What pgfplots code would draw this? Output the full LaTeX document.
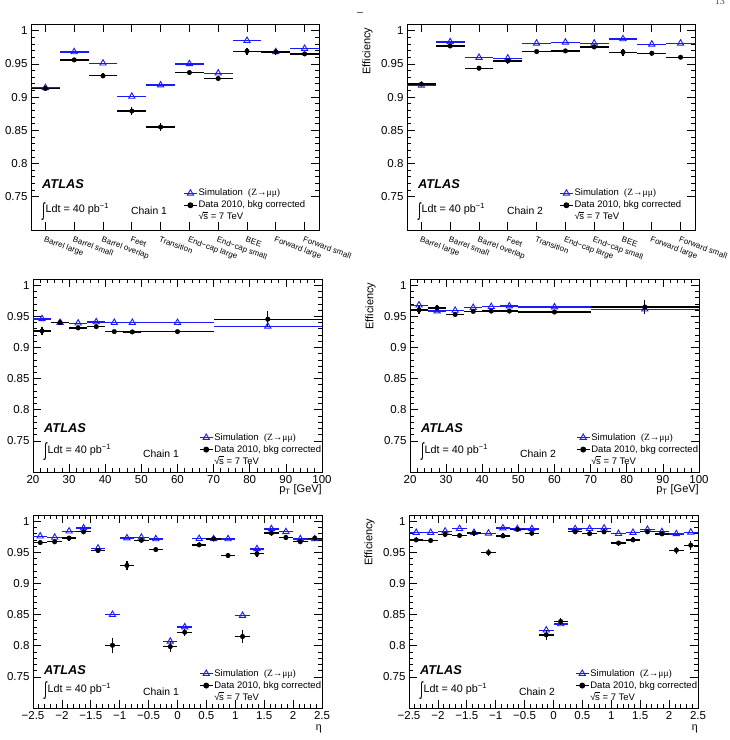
\documentclass[border=0pt]{standalone}
\usepackage{graphicx}
\usepackage{pgfplots}
\pgfplotsset{compat=1.18}
\usepackage{fontspec}
\setmainfont{Liberation Sans}
\newfontfamily\symfont{Liberation Serif}

\definecolor{simblue}{RGB}{25,25,250}

\newcommand\sqrts{√\kern-0.4pt$\overline{\mbox{s\vphantom{t}}}$}
\newcommand\lumi{\raisebox{-0.32em}{\scalebox{1}[1.75]{∫}}\kern0.5pt Ldt = 40 pb\textsuperscript{−1}}

\pgfplotsset{
  panel/.style={
    scale only axis, anchor=north west,
    ymin=0.70, ymax=1.01,
    ytick={0.75,0.8,0.85,0.9,0.95,1},
    minor y tick num=4,
    tick align=inside,
    major tick length=8pt, minor tick length=4pt,
    axis line style={line width=0.9pt},
    every tick/.append style={line width=0.7pt, black},
    /pgf/number format/assume math mode=true,
    tick label style={font=\fontsize{11.5}{13}\selectfont},
    ylabel={Efficiency},
    ylabel style={font=\fontsize{11}{13}\selectfont, at={(rel axis cs:-0.107,1)}, anchor=south east},
    clip=false,
    legend cell align=left,
    legend image code/.code={\draw[mark repeat=2, mark phase=2, ##1] plot coordinates {(0pt,0pt) (6.5pt,0pt) (13pt,0pt)};},
    legend style={draw=none, fill=none, inner sep=0pt, font=\fontsize{9.5}{11}\selectfont, row sep=1pt,
      nodes={inner sep=1pt, text height=7pt, text depth=2pt}},
  },
  catpanel/.style={panel, width=288pt, height=206pt,
    xmin=-0.5, xmax=9.5, xtick={0,...,9},
    xticklabels={Barrel large, Barrel small, Barrel overlap, Feet, Transition,
      End−cap large, End−cap small, BEE, Forward large, Forward small},
    xticklabel style={font=\fontsize{8}{9}\selectfont, yshift=-6pt, rotate=-20, anchor=north west, inner sep=0pt},
    legend style={at={(rel axis cs:0.528,0.206)}, anchor=north west},
  },
  ptpanel/.style={panel, width=289pt, height=193pt,
    xmin=20, xmax=100, xtick={20,30,...,100}, minor x tick num=4,
    xlabel={p\textsubscript{T} [GeV]},
    xlabel style={font=\fontsize{11}{13}\selectfont, at={(rel axis cs:1,-0.064)}, anchor=north east, inner sep=0pt},
    legend style={at={(rel axis cs:0.574,0.208)}, anchor=north west},
  },
  etapanel/.style={panel, width=289pt, height=193pt,
    xmin=-2.5, xmax=2.5, xtick={-2.5,-2,-1.5,-1,-0.5,0,0.5,1,1.5,2,2.5},
    xticklabels={−2.5,−2,−1.5,−1,−0.5,0,0.5,1,1.5,2,2.5},
    minor x tick num=4,
    xlabel={{\symfont η}},
    xlabel style={font=\fontsize{12}{13}\selectfont, at={(rel axis cs:1,-0.085)}, anchor=north east, inner sep=0pt},
    legend style={at={(rel axis cs:0.574,0.208)}, anchor=north west},
  },
  sim/.style={forget plot, only marks, mark=triangle, mark size=3.6pt, color=simblue,
    mark options={line width=0.9pt, fill=none},
    error bars/.cd, x dir=both, x explicit, error mark=none,
    error bar style={line width=1.3pt, simblue}},
  dat/.style={forget plot, only marks, mark=*, mark size=2.3pt, color=black,
    error bars/.cd, x dir=both, x explicit, y dir=both, y explicit, error mark=none,
    error bar style={line width=1.3pt, black}},
}

% legend entries shared by every panel
\newcommand\efflegend{%
  \addlegendimage{simblue, mark=triangle, mark size=3.6pt, line width=1.3pt, mark options={line width=0.9pt}}
  \addlegendentry{Simulation\ \ {\symfont (Z→μμ)}}
  \addlegendimage{black, mark=*, mark size=2.3pt, line width=1.3pt}
  \addlegendentry{Data 2010, bkg corrected}
  \addlegendimage{empty legend}
  \addlegendentry{\sqrts\ = 7 TeV}
}

% ATLAS label, luminosity and chain name
\newcommand\labels[5]{%
  \node[anchor=west, inner sep=0pt, font=\fontsize{12.8}{14}\selectfont\bfseries\itshape] at (rel axis cs:0.038,#1) {ATLAS};
  \node[anchor=west, inner sep=0pt, font=\fontsize{10.8}{12}\selectfont] at (rel axis cs:0.038,#2) {\lumi};
  \node[anchor=west, inner sep=0pt, font=\fontsize{10.4}{12}\selectfont] at (rel axis cs:#3,#4) {Chain #5};
}

\begin{document}
\begin{tikzpicture}
\path[use as bounding box] (0pt,0pt) rectangle (730pt,-740pt);
\clip (0pt,0pt) rectangle (730pt,-740pt);

\draw[black!60, line width=0.8pt] (357pt,-12.7pt) -- (363pt,-12.7pt);
\node[anchor=base east, inner sep=0pt, text=black!70, font=\symfont\fontsize{10}{12}\selectfont] at (725pt,-4pt) {13};

% ---------------- muon spectrometer regions, chain 1
\begin{axis}[catpanel, at={(31pt,-24pt)}]
\efflegend
\addplot[sim] table[x index=0, y index=1, x error index=2] {
0 0.914 0.5
1 0.968 0.5
2 0.951 0.5
3 0.901 0.5
4 0.918 0.5
5 0.950 0.5
6 0.936 0.5
7 0.985 0.5
8 0.968 0.5
9 0.973 0.5
};
\addplot[dat] table[x index=0, y index=1, x error index=2, y error index=3] {
0 0.913 0.5 0.003
1 0.956 0.5 0.003
2 0.932 0.5 0.004
3 0.879 0.5 0.006
4 0.855 0.5 0.006
5 0.937 0.5 0.003
6 0.928 0.5 0.003
7 0.969 0.5 0.005
8 0.968 0.5 0.004
9 0.965 0.5 0.003
};
\labels{0.223}{0.092}{0.347}{0.092}{1}
\end{axis}

% ---------------- muon spectrometer regions, chain 2
\begin{axis}[catpanel, at={(407pt,-24pt)}]
\efflegend
\addplot[sim] table[x index=0, y index=1, x error index=2] {
0 0.9175 0.5
1 0.983 0.5
2 0.9595 0.5
3 0.9585 0.5
4 0.981 0.5
5 0.9825 0.5
6 0.981 0.5
7 0.9875 0.5
8 0.9795 0.5
9 0.981 0.5
};
\addplot[dat] table[x index=0, y index=1, x error index=2, y error index=3] {
0 0.9195 0.5 0.003
1 0.977 0.5 0.003
2 0.9435 0.5 0.003
3 0.9545 0.5 0.004
4 0.9685 0.5 0.003
5 0.9695 0.5 0.003
6 0.9755 0.5 0.003
7 0.9675 0.5 0.005
8 0.966 0.5 0.004
9 0.960 0.5 0.003
};
\labels{0.223}{0.092}{0.347}{0.092}{2}
\end{axis}

% ---------------- transverse momentum, chain 1
\begin{axis}[ptpanel, at={(33pt,-279pt)}]
\efflegend
\addplot[sim] table[x index=0, y index=1, x error index=2] {
22.5 0.946 2.5
27.5 0.940 2.5
32.5 0.939 2.5
37.5 0.941 2.5
42.5 0.940 2.5
47.5 0.940 2.5
60   0.940 10
85   0.934 15
};
\addplot[dat] table[x index=0, y index=1, x error index=2, y error index=3] {
22.5 0.9265 2.5 0.007
27.5 0.940  2.5 0.004
32.5 0.9315 2.5 0.003
37.5 0.9335 2.5 0.003
42.5 0.9255 2.5 0.003
47.5 0.925  2.5 0.003
60   0.9255 10  0.003
85   0.9455 15  0.013
};
\labels{0.225}{0.104}{0.38}{0.093}{1}
\end{axis}

% ---------------- transverse momentum, chain 2
\begin{axis}[ptpanel, at={(410pt,-279pt)}]
\efflegend
\addplot[sim] table[x index=0, y index=1, x error index=2] {
22.5 0.968  2.5
27.5 0.9585 2.5
32.5 0.9595 2.5
37.5 0.964  2.5
42.5 0.9655 2.5
47.5 0.9665 2.5
60   0.965  10
85   0.9615 15
};
\addplot[dat] table[x index=0, y index=1, x error index=2, y error index=3] {
22.5 0.960  2.5 0.006
27.5 0.9635 2.5 0.004
32.5 0.953  2.5 0.003
37.5 0.958  2.5 0.003
42.5 0.9585 2.5 0.003
47.5 0.9585 2.5 0.003
60   0.957  10  0.003
85   0.965  15  0.011
};
\labels{0.225}{0.104}{0.38}{0.093}{2}
\end{axis}

% ---------------- pseudorapidity, chain 1
\begin{axis}[etapanel, at={(33pt,-515pt)}]
\efflegend
\addplot[sim] table[x index=0, y index=1, x error index=2] {
-2.375 0.976  0.125
-2.125 0.974  0.125
-1.875 0.984  0.125
-1.625 0.989  0.125
-1.375 0.9566 0.125
-1.125 0.850  0.125
-0.875 0.973  0.125
-0.625 0.974  0.125
-0.375 0.9716 0.125
-0.125 0.807  0.125
 0.125 0.830  0.125
 0.375 0.972  0.125
 0.625 0.9716 0.125
 0.875 0.9716 0.125
 1.125 0.8485 0.125
 1.375 0.9556 0.125
 1.625 0.9877 0.125
 1.875 0.983  0.125
 2.125 0.9716 0.125
 2.375 0.9716 0.125
};
\addplot[dat] table[x index=0, y index=1, x error index=2, y error index=3] {
-2.375 0.9657 0.125 0.004
-2.125 0.967  0.125 0.004
-1.875 0.973  0.125 0.004
-1.625 0.983  0.125 0.004
-1.375 0.953  0.125 0.004
-1.125 0.8008 0.125 0.012
-0.875 0.929  0.125 0.007
-0.625 0.9695 0.125 0.004
-0.375 0.9545 0.125 0.004
-0.125 0.7987 0.125 0.009
 0.125 0.8217 0.125 0.006
 0.375 0.962  0.125 0.004
 0.625 0.9716 0.125 0.004
 0.875 0.9449 0.125 0.004
 1.125 0.8148 0.125 0.010
 1.375 0.948  0.125 0.005
 1.625 0.981  0.125 0.004
 1.875 0.9738 0.125 0.004
 2.125 0.967  0.125 0.004
 2.375 0.9727 0.125 0.004
};
\labels{0.197}{0.09}{0.38}{0.084}{1}
\end{axis}

% ---------------- pseudorapidity, chain 2
\begin{axis}[etapanel, at={(409pt,-515pt)}]
\efflegend
\addplot[sim] table[x index=0, y index=1, x error index=2] {
-2.375 0.9818 0.125
-2.125 0.9818 0.125
-1.875 0.984  0.125
-1.625 0.988  0.125
-1.375 0.9818 0.125
-1.125 0.9807 0.125
-0.875 0.989  0.125
-0.625 0.9877 0.125
-0.375 0.9877 0.125
-0.125 0.825  0.125
 0.125 0.835  0.125
 0.375 0.9877 0.125
 0.625 0.988  0.125
 0.875 0.9888 0.125
 1.125 0.980  0.125
 1.375 0.9818 0.125
 1.625 0.9866 0.125
 1.875 0.983  0.125
 2.125 0.9797 0.125
 2.375 0.9823 0.125
};
\addplot[dat] table[x index=0, y index=1, x error index=2, y error index=3] {
-2.375 0.970  0.125 0.004
-2.125 0.969  0.125 0.004
-1.875 0.979  0.125 0.004
-1.625 0.977  0.125 0.004
-1.375 0.981  0.125 0.004
-1.125 0.9497 0.125 0.005
-0.875 0.9764 0.125 0.004
-0.625 0.987  0.125 0.004
-0.375 0.9807 0.125 0.004
-0.125 0.8175 0.125 0.008
 0.125 0.839  0.125 0.006
 0.375 0.983  0.125 0.004
 0.625 0.980  0.125 0.004
 0.875 0.983  0.125 0.004
 1.125 0.965  0.125 0.004
 1.375 0.970  0.125 0.004
 1.625 0.983  0.125 0.004
 1.875 0.9797 0.125 0.004
 2.125 0.9534 0.125 0.006
 2.375 0.9615 0.125 0.007
};
\labels{0.197}{0.09}{0.38}{0.084}{2}
\end{axis}
\end{tikzpicture}
\end{document}
